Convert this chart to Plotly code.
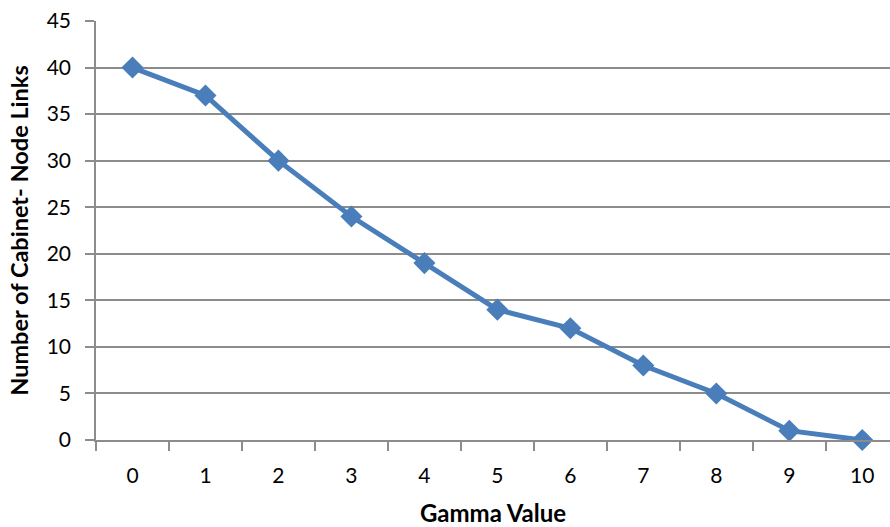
import plotly.graph_objects as go

gamma = [0, 1, 2, 3, 4, 5, 6, 7, 8, 9, 10]
links = [40, 37, 30, 24, 19, 14, 12, 8, 5, 1, 0]
y_ticks = [0, 5, 10, 15, 20, 25, 30, 35, 40, 45]

FONT = "Lato"
GRID = "#8c8c8c"
BLUE = "#4a7ebb"

fig = go.Figure()
fig.add_trace(go.Scatter(
    x=gamma, y=links, mode="lines+markers",
    line=dict(color=BLUE, width=5),
    marker=dict(symbol="diamond", size=17, color=BLUE),
    showlegend=False, cliponaxis=False,
))

fig.update_layout(
    width=890, height=527,
    margin=dict(l=96, r=0, t=21, b=87),
    plot_bgcolor="white", paper_bgcolor="white",
    font=dict(family=FONT, size=21, color="black"),
    xaxis=dict(
        range=[-0.5, 10.38],
        tickmode="array", tickvals=gamma, ticktext=[str(g) for g in gamma],
        ticks="", showgrid=False, zeroline=False,
        showline=True, linecolor=GRID, linewidth=1.5,
        ticklabelstandoff=16,
        minor=dict(tick0=-0.5, dtick=1, ticks="outside", ticklen=9,
                   tickcolor=GRID, tickwidth=1.5, showgrid=False),
        title=dict(text="<b>Gamma Value</b>", font=dict(size=24), standoff=23),
    ),
    yaxis=dict(
        range=[0, 45], tickmode="array", tickvals=y_ticks,
        ticks="outside", ticklen=9, tickcolor=GRID, tickwidth=1.5,
        showgrid=True, gridcolor=GRID, gridwidth=1.5,
        zeroline=False, showline=True, linecolor=GRID, linewidth=1.5,
        ticklabelstandoff=10,
        title=dict(text="<b>Number of Cabinet- Node Links</b>", font=dict(size=23.5), standoff=11),
    ),
)

fig.write_html("out.html")
